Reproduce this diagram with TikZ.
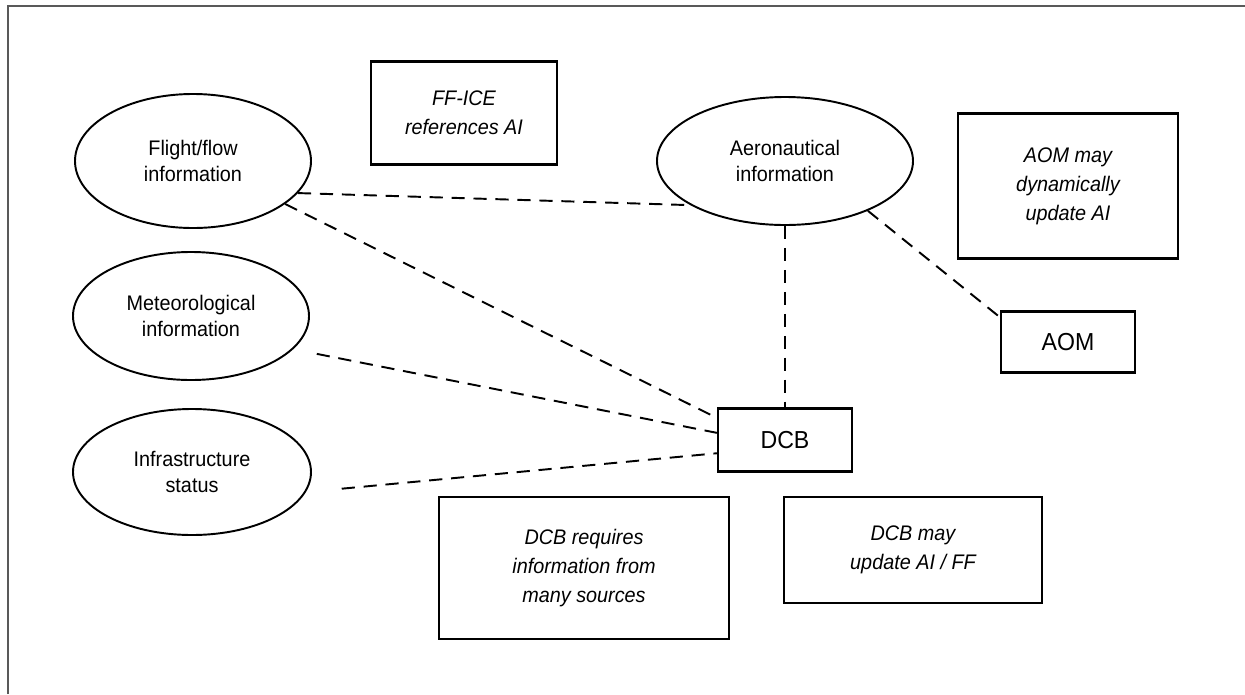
\documentclass[tikz,border=0pt]{standalone}
\usepackage{fontspec}
\setmainfont{Liberation Sans}[FakeStretch=0.94]
\usetikzlibrary{shapes}

\begin{document}
\begin{tikzpicture}[x=0.02cm,y=-0.02cm,
  blob/.style={ellipse,draw,line width=1.1pt,inner sep=0pt,align=center,
    font=\fontsize{12}{14.8}\selectfont},
  note/.style={rectangle,draw,line width=1.3pt,inner sep=0pt,align=center,
    font=\fontsize{12}{16.5}\selectfont\itshape},
  unit/.style={rectangle,draw,line width=1.3pt,inner sep=0pt,
    font=\fontsize{14}{16}\selectfont},
  link/.style={line width=1.1pt,dash pattern=on 7.5pt off 5pt}]

  \newcommand\U{0.02cm}

  \useasboundingbox (0,0) rectangle (1245,694);
  \draw[line width=1pt,black!65] (8,694) -- (8,6) -- (1245,6);

  %% information sources
  \node[blob,minimum width=236*\U,minimum height=134*\U]
  (flight) at (193,161) {Flight/flow\\information};
  \node[blob,minimum width=236*\U,minimum height=128*\U]
  (meteo) at (191,316) {Meteorological\\information};
  \node[blob,minimum width=238*\U,minimum height=126*\U]
  (infra) at (192,472) {Infrastructure\\status};
  \node[blob,minimum width=256*\U,minimum height=128*\U]
  (aero) at (785,161) {Aeronautical\\information};

  %% units
  \node[unit,minimum width=134*\U,minimum height=63*\U] (dcb) at (785,440) {DCB};
  \node[unit,minimum width=134*\U,minimum height=61*\U] (aom) at (1068,342) {AOM};

  %% remarks
  \node[note,minimum width=186*\U,minimum height=103*\U]
  (ffice) at (464,113) {FF-ICE\\references AI};
  \node[note,minimum width=220*\U,minimum height=145*\U]
  (aomnote) at (1068,186) {AOM may\\dynamically\\update AI};
  \node[note,minimum width=290*\U,minimum height=142*\U]
  (dcbreq) at (584,568) {DCB requires\\information from\\many sources};
  \node[note,minimum width=258*\U,minimum height=106*\U]
  (dcbmay) at (913,550) {DCB may\\update AI / FF};

  \draw[link] (flight.-17) -- (aero.205); %% flight -> aero
  \draw[link] (flight.-25) -- (dcb.162); %% flight -> DCB
  \draw[link,shorten <=24*\U] (meteo.-18) -- (dcb.174); %% meteo -> DCB
  \draw[link,shorten <=36*\U] (infra.-10) -- (dcb.191); %% infra -> DCB
  \draw[link] (aero.south) -- (dcb.north); %% aero -> DCB
  \draw[link] (aero.-31) -- (aom.160); %% aero -> AOM

\end{tikzpicture}
\end{document}
